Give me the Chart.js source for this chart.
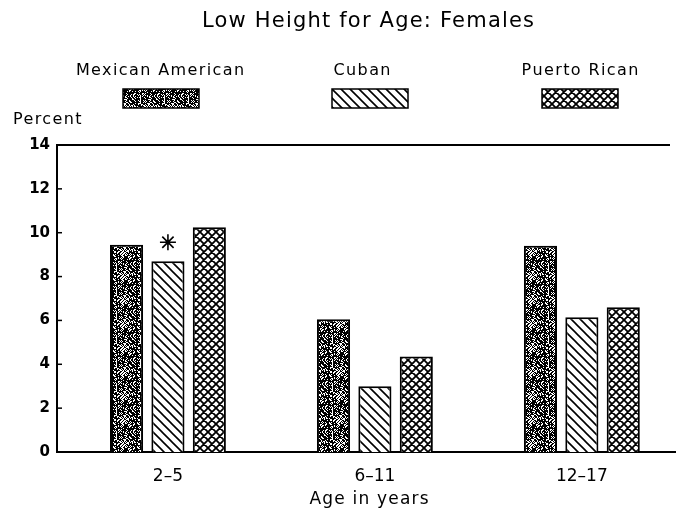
<!DOCTYPE html>
<html>
<head>
<meta charset="utf-8">
<script src="https://cdn.jsdelivr.net/npm/chart.js@4"></script>
<style>
  html, body { margin: 0; padding: 0; background: #fff; }
  #wrap { width: 681px; height: 512px; position: relative; }
</style>
</head>
<body>
<div id="wrap"><canvas id="c"></canvas></div>
<script>
// ---- data ----
const categories = ["2\u20135", "6\u201311", "12\u201317"];
const seriesNames = ["Mexican American", "Cuban", "Puerto Rican"];
const mexicanAmerican = [9.45, 6.05, 9.4];
const cuban = [8.7, 3.0, 6.15];
const puertoRican = [10.25, 4.35, 6.6];
const yTicks = [0, 2, 4, 6, 8, 10, 12, 14];
const chartTitle = "Low Height for Age: Females";
const yTitle = "Percent";
const xTitle = "Age in years";
const flagged = { series: 1, category: 0 }; // asterisk marker

// ---- patterns ----
function stipplePattern() {
  const s = 24, cv = document.createElement('canvas');
  cv.width = s; cv.height = s;
  const ctx = cv.getContext('2d');
  ctx.fillStyle = '#fff'; ctx.fillRect(0, 0, s, s);
  ctx.fillStyle = '#000';
  for (let y = 0; y < s; y++) for (let x = 0; x < s; x++) {
    const h = ((x * 37 + y * 91 + (x * y) * 13 + (x ^ y) * 7) % 17);
    if (h < 11) ctx.fillRect(x, y, 1, 1);
  }
  return ctx.createPattern(cv, 'repeat');
}
function diagPattern() {
  const s = 9, cv = document.createElement('canvas');
  cv.width = s; cv.height = s;
  const ctx = cv.getContext('2d');
  ctx.fillStyle = '#fff'; ctx.fillRect(0, 0, s, s);
  ctx.strokeStyle = '#000'; ctx.lineWidth = 1.6;
  ctx.beginPath();
  ctx.moveTo(-1, -1); ctx.lineTo(s + 1, s + 1);
  ctx.moveTo(-1, s - 1); ctx.lineTo(1, s + 1);
  ctx.moveTo(s - 1, -1); ctx.lineTo(s + 1, 1);
  ctx.stroke();
  return ctx.createPattern(cv, 'repeat');
}
function crossPattern() {
  const s = 8, cv = document.createElement('canvas');
  cv.width = s; cv.height = s;
  const ctx = cv.getContext('2d');
  ctx.fillStyle = '#fff'; ctx.fillRect(0, 0, s, s);
  ctx.strokeStyle = '#000'; ctx.lineWidth = 1.8;
  ctx.beginPath();
  ctx.moveTo(-1, -1); ctx.lineTo(s + 1, s + 1);
  ctx.moveTo(-1, s + 1); ctx.lineTo(s + 1, -1);
  ctx.moveTo(-1, s - 1); ctx.lineTo(1, s + 1);
  ctx.moveTo(s - 1, -1); ctx.lineTo(s + 1, 1);
  ctx.moveTo(-1, 1); ctx.lineTo(1, -1);
  ctx.moveTo(s - 1, s + 1); ctx.lineTo(s + 1, s - 1);
  ctx.stroke();
  return ctx.createPattern(cv, 'repeat');
}
const fills = [stipplePattern(), diagPattern(), crossPattern()];
const seriesValues = [mexicanAmerican, cuban, puertoRican];

const FONT = '"DejaVu Sans", sans-serif';

function spacedText(ctx, text, cx, cy, spacing, align) {
  ctx.letterSpacing = spacing + 'px';
  const w = ctx.measureText(text).width - spacing;
  ctx.textAlign = 'left';
  const x0 = align === 'left' ? cx : cx - w / 2;
  ctx.fillText(text, x0, cy);
  ctx.letterSpacing = '0px';
}

const decor = {
  id: 'decor',
  afterDraw(chart) {
    const ctx = chart.ctx, a = chart.chartArea;
    const y = chart.scales.y;
    ctx.save();
    ctx.fillStyle = '#000';
    ctx.strokeStyle = '#000';
    ctx.textBaseline = 'middle';
    // title
    ctx.font = '21px ' + FONT;
    spacedText(ctx, chartTitle, 368, 22, 1.2, 'center');
    // legend
    const legX = [160, 362, 580];
    const swX = [161, 370, 580];
    ctx.font = '16px ' + FONT;
    seriesNames.forEach((n, i) => {
      ctx.fillStyle = '#000';
      spacedText(ctx, n, legX[i], 71, 1.4, 'center');
      ctx.fillStyle = chart.data.datasets[i].backgroundColor;
      ctx.fillRect(swX[i] - 38, 89, 76, 19);
      ctx.lineWidth = 1.5;
      ctx.strokeRect(swX[i] - 38, 89, 76, 19);
    });
    // y title
    ctx.fillStyle = '#000';
    ctx.font = '16px ' + FONT;
    spacedText(ctx, yTitle, 13, 120, 1.4, 'left');
    // x title
    ctx.font = '17px ' + FONT;
    spacedText(ctx, xTitle, 369, 500, 1.2, 'center');
    // top line
    ctx.lineWidth = 2;
    ctx.beginPath();
    ctx.moveTo(a.left, a.top); ctx.lineTo(a.right - 5, a.top);
    ctx.stroke();
    // inward y ticks
    ctx.lineWidth = 1.5;
    y.ticks.forEach(t => {
      const py = y.getPixelForValue(t.value);
      ctx.beginPath(); ctx.moveTo(a.left, py); ctx.lineTo(a.left + 5, py); ctx.stroke();
    });
    // asterisk
    const bar = chart.getDatasetMeta(flagged.series).data[flagged.category];
    const cx = bar.x, cy = bar.y - 19, r = 8;
    ctx.lineWidth = 1.6;
    ctx.beginPath();
    for (let k = 0; k < 4; k++) {
      const ang = k * Math.PI / 4;
      ctx.moveTo(cx - r * Math.cos(ang), cy - r * Math.sin(ang));
      ctx.lineTo(cx + r * Math.cos(ang), cy + r * Math.sin(ang));
    }
    ctx.stroke();
    ctx.beginPath(); ctx.arc(cx, cy, 2.4, 0, Math.PI * 2); ctx.fill();
    ctx.restore();
  }
};

new Chart(document.getElementById('c'), {
  type: 'bar',
  data: {
    datasets: seriesNames.map((n, i) => ({
      label: n,
      data: categories.map((c, j) => ({ x: j, y: seriesValues[i][j] })),
      backgroundColor: fills[i],
      borderColor: '#000',
      borderWidth: 2,
      borderSkipped: 'bottom',
      categoryPercentage: 0.6,
      barPercentage: 0.8
    }))
  },
  options: {
    responsive: true,
    maintainAspectRatio: false,
    animation: false,
    layout: { padding: { top: 145, right: 6, left: 0, bottom: 0 } },
    plugins: { legend: { display: false }, title: { display: false }, tooltip: { enabled: false } },
    scales: {
      x: {
        type: 'linear',
        offset: false,
        min: -0.536, max: 2.45,
        grid: { display: false, drawTicks: false },
        border: { display: true, color: '#000', width: 2 },
        afterFit(s) { s.height = 60; },
        ticks: {
          stepSize: 1, includeBounds: false, autoSkip: false, maxRotation: 0,
          color: '#000', font: { family: 'DejaVu Sans', size: 17 }, padding: 14,
          callback: v => (Number.isInteger(v) && categories[v] !== undefined) ? categories[v] : ''
        }
      },
      y: {
        min: 0, max: 14,
        afterFit(s) { s.width = 57; },
        afterBuildTicks(s) { s.ticks = yTicks.map(v => ({ value: v })); },
        grid: { display: false, drawTicks: false },
        border: { display: true, color: '#000', width: 2 },
        ticks: { color: '#000', font: { family: 'DejaVu Sans', size: 15, weight: 'bold' }, padding: 7 }
      }
    }
  },
  plugins: [decor]
});
</script>
</body>
</html>
